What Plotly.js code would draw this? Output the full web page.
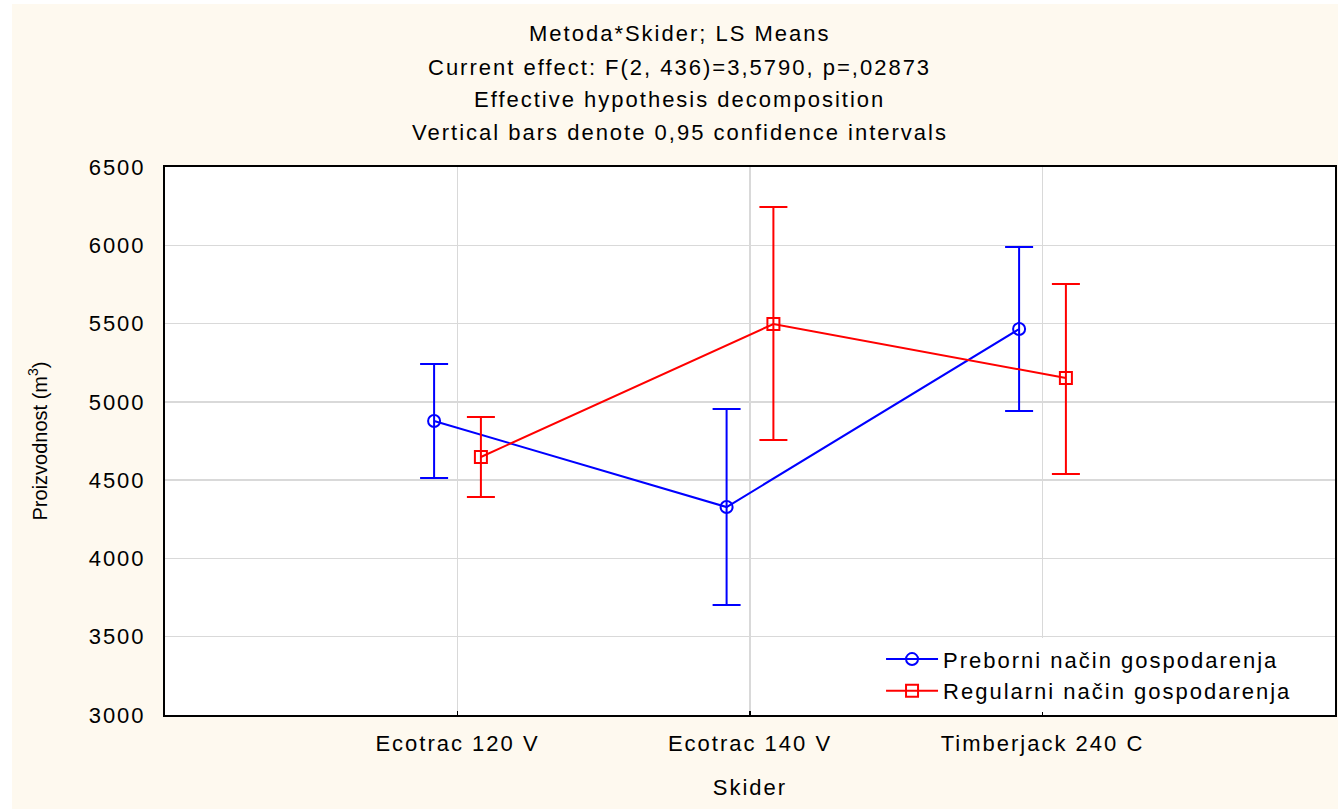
<!DOCTYPE html>
<html>
<head>
<meta charset="utf-8">
<script src="https://cdn.plot.ly/plotly-3.0.1.min.js"></script>
<style>
  html, body { margin: 0; padding: 0; background: #ffffff; }
  #chart { position: absolute; left: 12px; top: 4px; width: 1326px; height: 805px; }
  text { letter-spacing: 2px; }
  text.ytitle, text.ytitle tspan { letter-spacing: 0px; }
</style>
</head>
<body>
<div id="chart"></div>
<script>
// ---- data ----
const categories = ["Ecotrac 120 V", "Ecotrac 140 V", "Timberjack 240 C"];

const seriesNames = ["Preborni način gospodarenja", "Regularni način gospodarenja"];

const prebMean  = [4878, 4328, 5465];
const prebUpper = [5242, 4954, 5989];
const prebLower = [4514, 3703, 4942];

const regMean   = [4648, 5497, 5152];
const regUpper  = [4903, 6245, 5753];
const regLower  = [4392, 4756, 4539];

const yTicks = [3000, 3500, 4000, 4500, 5000, 5500, 6000, 6500];

const titleLines = [
  "Metoda*Skider; LS Means",
  "Current effect: F(2, 436)=3,5790, p=,02873",
  "Effective hypothesis decomposition",
  "Vertical bars denote 0,95 confidence intervals"
];
const xTitle = "Skider";
const yTitle = "Proizvodnost (m<sup>3</sup>)";

// ---- build ----
const FONT = "Liberation Sans, Arial, sans-serif";
const CREAM = "#FEF9EF";

function errTrace(name, mean, upper, lower, color, symbol) {
  return {
    type: "scatter",
    mode: "lines+markers",
    name: name,
    x: categories,
    y: mean,
    line: { color: color, width: 2 },
    marker: { symbol: symbol, size: 12, color: color, line: { color: color, width: 2 } },
    error_y: {
      type: "data",
      symmetric: false,
      array: upper.map((u, i) => u - mean[i]),
      arrayminus: lower.map((l, i) => mean[i] - l),
      color: color,
      thickness: 2,
      width: 14
    },
    cliponaxis: false
  };
}

const traces = [
  errTrace(seriesNames[0], prebMean, prebUpper, prebLower, "#0000FF", "circle-open"),
  errTrace(seriesNames[1], regMean, regUpper, regLower, "#FF0000", "square-open")
];

// plot area spans y from 711 (bottom) to 163 (top) inside the div
const plotTop = 163, plotBottom = 711;
function pyToPaper(py) { return (plotBottom - py) / (plotBottom - plotTop); }
const titleYs = [29, 64, 96, 129];

const annotations = titleLines.slice(1).map((t, i) => ({
  text: t, xref: "paper", yref: "paper", x: 0.44, y: pyToPaper(titleYs[i + 1]),
  xanchor: "center", yanchor: "middle", showarrow: false,
  font: { family: FONT, size: 22, color: "#000" }
}));

const layout = {
  width: 1326,
  height: 805,
  paper_bgcolor: CREAM,
  plot_bgcolor: "#FFFFFF",
  margin: { l: 153, r: 3, t: 163, b: 94 },
  scattermode: "group",
  scattergap: 0.68,
  showlegend: true,
  title: {
    text: titleLines[0],
    font: { family: FONT, size: 22, color: "#000" },
    x: 0.44 * (1170 / 1326) + 153 / 1326, xanchor: "center",
    y: 1 - titleYs[0] / 805, yanchor: "middle"
  },
  annotations: annotations,
  xaxis: {
    type: "category",
    range: [-1, 3],
    showgrid: true,
    gridcolor: "#D9D9D9",
    gridwidth: 1.5,
    showline: true,
    linecolor: "#000",
    linewidth: 2,
    mirror: true,
    ticks: "inside",
    ticklen: 4,
    tickcolor: "#000",
    tickwidth: 1.5,
    ticklabelstandoff: 8,
    zeroline: false,
    tickfont: { family: FONT, size: 22, color: "#000" },
    title: { text: xTitle, font: { family: FONT, size: 22, color: "#000" }, standoff: 24 }
  },
  yaxis: {
    range: [3000, 6500],
    tickvals: yTicks,
    ticktext: yTicks.map(String),
    showgrid: true,
    gridcolor: "#D9D9D9",
    gridwidth: 1.5,
    showline: true,
    linecolor: "#000",
    linewidth: 2,
    mirror: true,
    ticks: "",
    ticklabelstandoff: 13,
    zeroline: false,
    tickfont: { family: FONT, size: 22, color: "#000" },
    title: { text: yTitle, font: { family: FONT, size: 20, color: "#000" }, standoff: 36 }
  },
  legend: {
    x: 0.612, y: 0.14,
    xanchor: "left", yanchor: "top",
    bgcolor: "#FFFFFF",
    borderwidth: 0,
    font: { family: FONT, size: 22, color: "#000" },
    itemwidth: 52
  }
};

Plotly.newPlot("chart", traces, layout, { displayModeBar: false, staticPlot: true });
</script>
</body>
</html>
